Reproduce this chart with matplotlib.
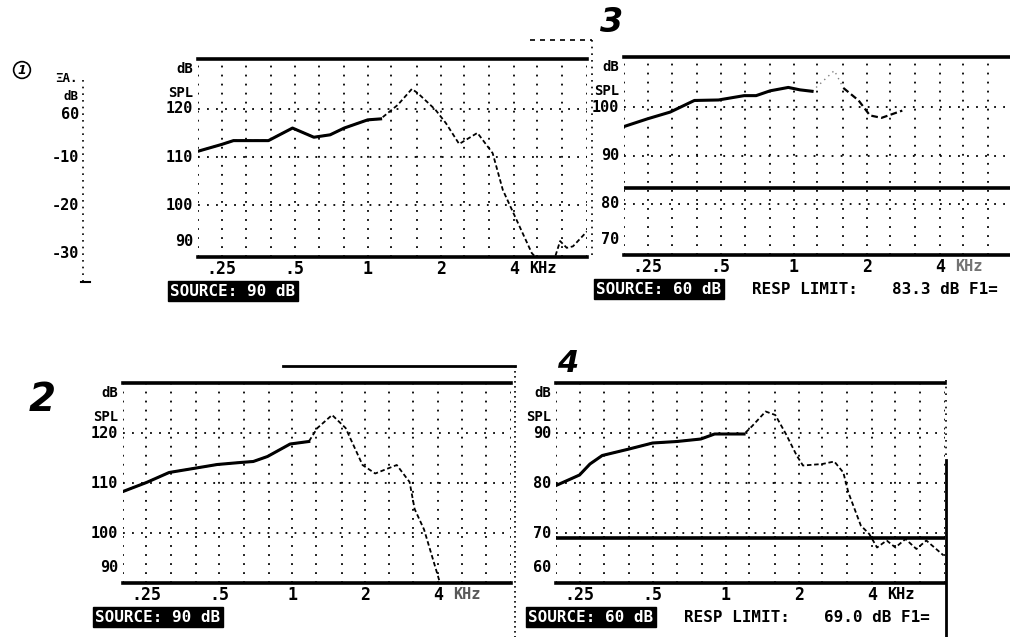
import matplotlib.pyplot as plt
from matplotlib.ticker import NullLocator, NullFormatter

# third-octave grid and labelled frequencies (kHz)
grid_freqs = [0.25, 0.315, 0.4, 0.5, 0.63, 0.8, 1, 1.25, 1.6, 2, 2.5, 3.15, 4, 5, 6.3, 8]
tick_freqs = [0.25, 0.5, 1, 2, 4]
tick_labels = ['.25', '.5', '1', '2', '4']

# panel 1 (top left), source 90 dB
f1 = [0.2, 0.25, 0.28, 0.39, 0.49, 0.6, 0.7, 0.8, 1.0, 1.13, 1.33, 1.52, 1.61, 1.9, 2.1,
      2.38, 2.83, 3.27, 3.6, 4.1, 4.74, 5.3, 5.8, 6.2, 6.6, 7.0, 8.0]
db1 = [111.2, 112.6, 113.4, 113.4, 116.0, 114.1, 114.6, 116.0, 117.7, 117.9, 120.8, 124.1, 123.2, 119.8, 117.0,
       112.7, 115.0, 110.8, 103.2, 97.0, 90.1, 87.5, 88.0, 92.6, 91.2, 91.5, 94.6]

# panel 2 (bottom left), source 90 dB
f2 = [0.2, 0.25, 0.31, 0.39, 0.49, 0.61, 0.69, 0.79, 0.98, 1.17, 1.27, 1.46, 1.66, 1.95, 2.2,
      2.7, 3.05, 3.2, 3.5, 4.0, 4.3]
db2 = [108.3, 110.1, 112.1, 112.9, 113.7, 114.1, 114.3, 115.3, 117.8, 118.3, 121.0, 123.6, 121.0, 113.6, 111.9,
       113.6, 110.2, 104.8, 100.7, 91.3, 86.0]

# panel 3 (top right), source 60 dB - scan is faded in places
f3 = [0.2, 0.25, 0.31, 0.39, 0.49, 0.625, 0.7, 0.8, 0.95, 1.06, 1.19]
db3 = [96.0, 97.6, 99.0, 101.4, 101.5, 102.4, 102.4, 103.4, 104.1, 103.6, 103.3]
f3_faint = [1.19, 1.47, 1.6]
db3_faint = [103.3, 107.6, 104.0]
f3b = [1.6, 1.85, 2.06, 2.3, 2.8]
db3b = [104.0, 101.4, 98.3, 97.8, 99.3]
limit3 = 83.3

# panel 4 (bottom right), source 60 dB
f4 = [0.2, 0.25, 0.276, 0.31, 0.4, 0.5, 0.63, 0.79, 0.9, 1.0, 1.19, 1.28, 1.46, 1.6, 1.77,
      1.96, 2.08, 2.5, 2.8, 3.05, 3.2, 3.6, 3.9, 4.2, 4.6, 5.0, 5.5, 6.1, 6.7, 7.9]
db4 = [79.5, 81.6, 83.8, 85.5, 86.8, 88.0, 88.3, 88.8, 89.8, 89.8, 89.8, 91.3, 94.3, 93.6, 89.8,
       85.5, 83.5, 83.8, 84.3, 82.1, 78.1, 71.5, 69.8, 67.1, 68.5, 67.1, 68.8, 66.8, 68.5, 65.5]
limit4 = 69.0

# aux scale at far left (edge of a previous chart), placed against panel 1 levels
aux_labels = ['60', '-10', '-20', '-30']
aux_levels = [118.8, 110, 100, 90]

W, H = 1010, 637
MONO = 'DejaVu Sans Mono'
fig = plt.figure(figsize=(W / 100, H / 100), dpi=100)
fig.patch.set_facecolor('white')


def px_axes(x0, y0, x1, y1):
    return fig.add_axes([x0 / W, 1 - y1 / H, (x1 - x0) / W, (y1 - y0) / H])


def setup(ax, ylim, yticks, source, khz_color='k', resp=None):
    ax.set_xscale('log')
    ax.set_xlim(0.2, 8)
    ax.set_ylim(*ylim)
    for s in ['left', 'right']:
        ax.spines[s].set_visible(False)
    for s in ['top', 'bottom']:
        ax.spines[s].set_linewidth(2.6)
    for g in [0.2] + grid_freqs:
        ax.axvline(g, color='k', lw=1.3, ls=(0, (1, 4)), zorder=1)
    for v in yticks:
        if ylim[0] + 2 < v < ylim[1] - 2:
            ax.axhline(v, color='k', lw=1.3, ls=(0, (1, 4)), zorder=1)
    ax.set_xticks(tick_freqs)
    ax.set_xticklabels(tick_labels, family=MONO, fontsize=12, fontweight='bold')
    ax.xaxis.set_minor_locator(NullLocator())
    ax.xaxis.set_minor_formatter(NullFormatter())
    ax.tick_params(axis='x', length=0, pad=2)
    ax.text(4.6, -0.018, 'KHz', transform=ax.get_xaxis_transform(), family=MONO,
            fontsize=11, fontweight='bold', va='top', ha='left', color=khz_color)
    ax.set_yticks([])
    ytr = ax.get_yaxis_transform()
    for v in yticks:
        yy = v if v > ylim[0] + 2 else ylim[0] + 3.2
        ax.text(-0.012, yy, str(v), transform=ytr, ha='right', va='center',
                family=MONO, fontsize=11, fontweight='bold')
    ax.text(-0.012, 0.95, 'dB', transform=ax.transAxes, ha='right', va='center',
            family=MONO, fontsize=10, fontweight='bold')
    ax.text(-0.012, 0.83, 'SPL', transform=ax.transAxes, ha='right', va='center',
            family=MONO, fontsize=10, fontweight='bold')
    ax.annotate(source, xy=(0, 0), xycoords='axes fraction', xytext=(-28, -34),
                textcoords='offset pixels', ha='left', va='center', family=MONO,
                fontsize=11.5, fontweight='bold', color='white',
                bbox=dict(boxstyle='square,pad=0.15', fc='black', ec='black'))
    if resp is not None:
        ax.annotate('RESP LIMIT:', xy=(0, 0), xycoords='axes fraction', xytext=(128, -34),
                    textcoords='offset pixels', ha='left', va='center', family=MONO,
                    fontsize=11.5, fontweight='bold')
        ax.annotate(resp, xy=(0, 0), xycoords='axes fraction', xytext=(268, -34),
                    textcoords='offset pixels', ha='left', va='center', family=MONO,
                    fontsize=11.5, fontweight='bold')


def curve(ax, f, db, solid_max):
    ax.plot(f, db, color='k', lw=1.3, ls=(0, (2.5, 1.5)), zorder=3)
    fs = [x for x in f if x <= solid_max]
    ax.plot(fs, db[:len(fs)], color='k', lw=2.2, zorder=4)


# panel 1
ax1 = px_axes(198, 59, 587, 257)
setup(ax1, (89.3, 130.3), [90, 100, 110, 120], 'SOURCE: 90 dB')
curve(ax1, f1, db1, 1.15)

# panel 3 (runs off the right edge of the page)
ax3 = px_axes(624, 57, 1013, 255)
setup(ax3, (69.4, 110.4), [70, 80, 90, 100], 'SOURCE: 60 dB', khz_color='0.45',
      resp='%.1f dB F1=' % limit3)
ax3.plot(f3, db3, color='k', lw=2.2, zorder=4)
ax3.plot(f3_faint, db3_faint, color='0.5', lw=1.0, ls=(0, (1, 3)), zorder=3)
ax3.plot(f3b, db3b, color='k', lw=1.6, ls=(0, (3, 1.5)), zorder=4)
ax3.axhline(limit3, color='k', lw=2.6, zorder=4)

# panel 2
ax2 = px_axes(123, 383, 511, 583)
setup(ax2, (90, 130), [90, 100, 110, 120], 'SOURCE: 90 dB', khz_color='0.35')
curve(ax2, f2, db2, 1.2)

# panel 4
ax4 = px_axes(556, 383, 945, 583)
setup(ax4, (60, 100), [60, 70, 80, 90], 'SOURCE: 60 dB', resp='%.1f dB F1=' % limit4)
curve(ax4, f4, db4, 1.2)
ax4.axhline(limit4, color='k', lw=2.6, zorder=4)

# aux scale left of panel 1
for lab, lev in zip(aux_labels, aux_levels):
    ax1.text(-0.305, lev, lab, transform=ax1.get_yaxis_transform(), ha='right', va='center',
             family=MONO, fontsize=11, fontweight='bold')
fig.text(78 / W, 1 - 78 / H, 'ΞA.', ha='right', va='center', family=MONO, fontsize=9, fontweight='bold')
fig.text(78 / W, 1 - 96 / H, 'dB', ha='right', va='center', family=MONO, fontsize=9, fontweight='bold')
fig.add_artist(plt.Line2D([83 / W, 83 / W], [1 - 80 / H, 1 - 282 / H], color='k', lw=1.2, ls=(0, (1, 3))))
fig.add_artist(plt.Line2D([81 / W, 90 / W], [1 - 282 / H, 1 - 282 / H], color='k', lw=1.5))

# frame remnants of the scanned page
fig.add_artist(plt.Line2D([592 / W, 592 / W], [1 - 40 / H, 1 - 257 / H], color='k', lw=1.2, ls=(0, (1, 3))))
fig.add_artist(plt.Line2D([530 / W, 592 / W], [1 - 40 / H, 1 - 40 / H], color='k', lw=1.2, ls=(0, (3, 3))))
fig.add_artist(plt.Line2D([283 / W, 515 / W], [1 - 366 / H, 1 - 366 / H], color='k', lw=2.0))
fig.add_artist(plt.Line2D([515 / W, 515 / W], [1 - 366 / H, 1 - 637 / H], color='k', lw=1.2, ls=(0, (1, 2))))
fig.add_artist(plt.Line2D([946 / W, 946 / W], [1 - 460 / H, 1 - 637 / H], color='k', lw=2.0))
fig.add_artist(plt.Line2D([946 / W, 946 / W], [1 - 380 / H, 1 - 460 / H], color='k', lw=1.2, ls=(0, (1, 3))))

# handwritten panel numbers
hand = dict(fontweight='heavy', style='italic', family='DejaVu Sans', color='k')
fig.text(22 / W, 1 - 70 / H, '1', ha='center', va='center', fontsize=9,
         bbox=dict(boxstyle='circle,pad=0.15', fc='none', ec='k', lw=1.2), **hand)
fig.text(612 / W, 1 - 22 / H, '3', ha='center', va='center', fontsize=24, **hand)
fig.text(42 / W, 1 - 400 / H, '2', ha='center', va='center', fontsize=28, **hand)
fig.text(568 / W, 1 - 364 / H, '4', ha='center', va='center', fontsize=22, **hand)

fig.savefig('out.png', dpi=100, facecolor='white')
